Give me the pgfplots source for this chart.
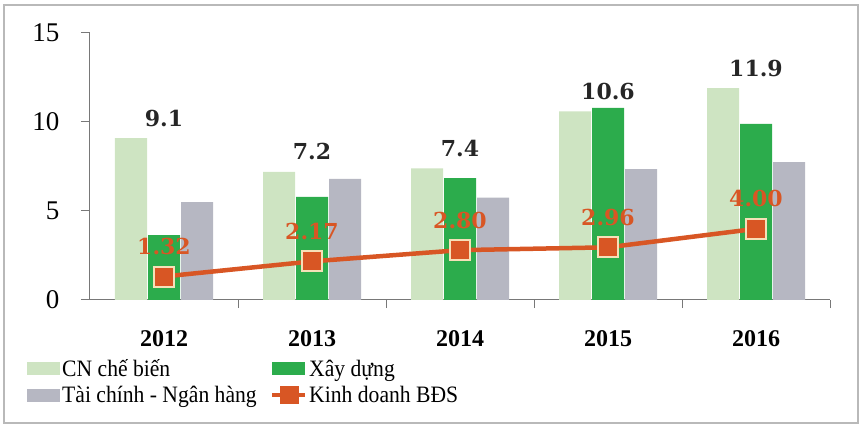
\documentclass[border=0pt]{standalone}
\usepackage{fontspec}
\setmainfont{Liberation Serif}
\newfontfamily\lblfont{DejaVu Serif}
\newfontfamily\legfont[FakeStretch=0.92]{Liberation Serif}
\usepackage{pgfplots}
\pgfplotsset{compat=1.18}
\definecolor{cnc}{RGB}{206,228,194}
\definecolor{xdc}{RGB}{44,172,76}
\definecolor{tcc}{RGB}{182,183,194}
\definecolor{kdc}{RGB}{216,86,36}
\definecolor{mkb}{RGB}{246,224,184}
\definecolor{axc}{RGB}{120,120,120}
\begin{document}
\begin{tikzpicture}
\begin{axis}[
  at={(0pt,0pt)}, anchor=south west,
  scale only axis, width=740pt, height=267pt,
  xmin=-0.5, xmax=4.5, ymin=0, ymax=15,
  axis x line*=bottom, axis y line*=left,
  axis line style={draw=axc, line width=1pt},
  tick align=outside, major tick length=9pt,
  ytick={0,5,10,15},
  ytick style={draw=axc, line width=1pt},
  yticklabel style={font=\fontsize{27}{30}\selectfont, xshift=-18pt},
  /pgf/number format/assume math mode=true,
  xtick={0,1,2,3,4},
  xticklabels={2012,2013,2014,2015,2016},
  xtick style={draw=none},
  xticklabel style={font=\bfseries\fontsize{24}{28}\selectfont, yshift=-18pt},
  extra x ticks={0.5,1.5,2.5,3.5,4.5},
  extra x tick labels={},
  extra x tick style={xtick style={draw=axc, line width=1pt}, major tick length=8pt},
  clip=false,
  legend columns=2,
  legend cell align=left,
  legend style={at={(-0.0851,-0.215)}, anchor=north west, draw=none, fill=none,
    font=\legfont\fontsize{23.5}{27}\selectfont, row sep=4pt, inner sep=0pt,
    nodes={inner sep=2pt},
    /tikz/every even column/.append style={column sep=12pt}},
]
\addplot[ybar, bar width=32pt, bar shift=-33pt, fill=cnc, draw=none,
  point meta=explicit symbolic,
  nodes near coords,
  every node near coord/.append style={font=\lblfont\bfseries\fontsize{22}{26}\selectfont, text=black!85, anchor=south, yshift=8pt},
  legend image code/.code={\fill[cnc] (0pt,-6.5pt) rectangle (33pt,6.5pt);}]
  coordinates {(0,9.1)[9.1] (1,7.2)[7.2] (2,7.4)[7.4] (3,10.6)[10.6] (4,11.9)[11.9]};
\addlegendentry{CN chế biến}
\addplot[ybar, bar width=32pt, bar shift=0pt, fill=xdc, draw=none,
  legend image code/.code={\fill[xdc] (0pt,-6.5pt) rectangle (33pt,6.5pt);}]
  coordinates {(0,3.65) (1,5.8) (2,6.85) (3,10.8) (4,9.9)};
\addlegendentry{Xây dựng}
\addplot[ybar, bar width=32pt, bar shift=33pt, fill=tcc, draw=none,
  legend image code/.code={\fill[tcc] (0pt,-6.5pt) rectangle (33pt,6.5pt);}]
  coordinates {(0,5.5) (1,6.8) (2,5.75) (3,7.35) (4,7.75)};
\addlegendentry{Tài chính - Ngân hàng}
\addplot[kdc, line width=4.5pt, mark=square*,
  mark options={fill=kdc, draw=mkb, line width=2pt, scale=1},
  mark size=10pt,
  point meta=explicit symbolic,
  nodes near coords,
  every node near coord/.append style={font=\lblfont\bfseries\fontsize{22}{26}\selectfont, text=kdc, anchor=center, yshift=30pt},
  legend image code/.code={\draw[kdc, line width=3.5pt] (0pt,0pt) -- (33pt,0pt); \fill[kdc] (10pt,-7pt) rectangle (24pt,7pt);}]
  coordinates {(0,1.32)[1.32] (1,2.17)[2.17] (2,2.80)[2.80] (3,2.96)[2.96] (4,4.00)[4.00]};
\addlegendentry{Kinh doanh BĐS}
\end{axis}
\draw[gray!55, line width=1.5pt] (-86pt,-123pt) rectangle (768pt,295pt);
\pgfresetboundingbox
\path (-90pt,-133pt) rectangle (774pt,300pt);
\end{tikzpicture}
\end{document}
